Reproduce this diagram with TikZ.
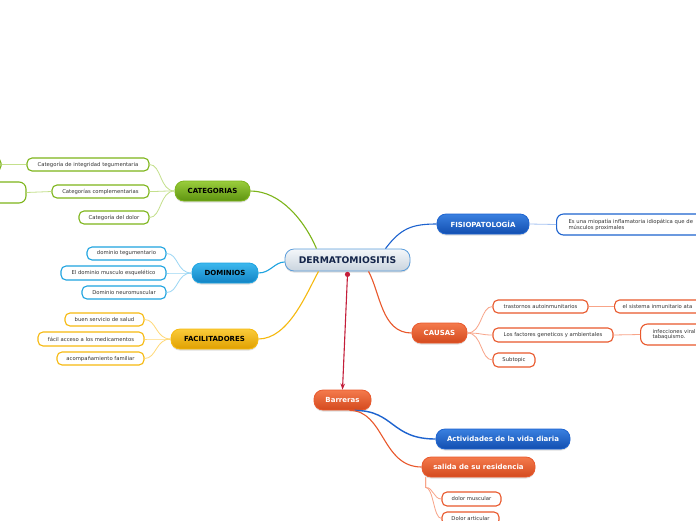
\documentclass[tikz,border=0pt]{standalone}
\usepackage{fontspec}
\setmainfont{DejaVu Sans}
\usetikzlibrary{shadows,arrows.meta}
\definecolor{txtgray}{HTML}{333333}
\definecolor{grnB}{HTML}{7DB51A}
\definecolor{grnT}{HTML}{9ACD3C}
\definecolor{grnD}{HTML}{5E9410}
\definecolor{grnL}{HTML}{C4E08C}
\definecolor{cyaB}{HTML}{1EA3E0}
\definecolor{cyaT}{HTML}{3CB8EE}
\definecolor{cyaD}{HTML}{1283C4}
\definecolor{cyaL}{HTML}{9AD6F4}
\definecolor{yelB}{HTML}{F6B90E}
\definecolor{yelT}{HTML}{FACB3A}
\definecolor{yelD}{HTML}{E0A000}
\definecolor{yelL}{HTML}{FFD978}
\definecolor{bluB}{HTML}{1D63CF}
\definecolor{bluT}{HTML}{3A80E0}
\definecolor{bluD}{HTML}{124EB0}
\definecolor{bluL}{HTML}{A5C3F2}
\definecolor{orgB}{HTML}{E9582C}
\definecolor{orgT}{HTML}{F47A4C}
\definecolor{orgD}{HTML}{D44A1E}
\definecolor{orgL}{HTML}{F8A488}
\definecolor{cenB}{HTML}{5A9CDA}
\definecolor{cenT}{HTML}{F4F7FA}
\definecolor{cenD}{HTML}{C9D4DE}
\definecolor{navy}{HTML}{14254A}
\definecolor{redA}{HTML}{C41E3A}
\tikzset{
  mainbox/.style={rounded corners=9pt, minimum height=20pt, inner sep=0pt, line width=0.8pt,
    font=\fontsize{7}{8}\selectfont\bfseries, drop shadow={shadow xshift=0pt, shadow yshift=-1.5pt, opacity=0.25}},
  subbox/.style={rounded corners=5pt, minimum height=13pt, inner sep=0pt, line width=1.1pt, fill=white,
    text=txtgray, font=\fontsize{5.3}{6}\selectfont},
  greenbox/.style={mainbox, draw=grnB, top color=grnT, bottom color=grnD, text=black},
  cyanbox/.style={mainbox, draw=cyaB, top color=cyaT, bottom color=cyaD, text=black},
  yellowbox/.style={mainbox, draw=yelB, top color=yelT, bottom color=yelD, text=black},
  bluebox/.style={mainbox, draw=bluB, top color=bluT, bottom color=bluD, text=white},
  orangebox/.style={mainbox, draw=orgB, top color=orgT, bottom color=orgD, text=white},
  gsub/.style={subbox, draw=grnB},
  csub/.style={subbox, draw=cyaB},
  ysub/.style={subbox, draw=yelB},
  bsub/.style={subbox, draw=bluB},
  osub/.style={subbox, draw=orgB},
  mainlink/.style={line width=1.1pt},
  sublink/.style={line width=0.8pt},
}
\begin{document}
\begin{tikzpicture}[x=1pt,y=-1pt]
\useasboundingbox (0,0) rectangle (696,520);
\clip (0,0) rectangle (696,520);
\fill[white] (0,0) rectangle (696,520);

% central
\node[mainbox, draw=cenB, top color=cenT, bottom color=cenD, text=navy, minimum width=125pt, minimum height=22pt,
  font=\fontsize{9.2}{10}\selectfont\bfseries] (cen) at (347.5,260) {DERMATOMIOSITIS};

% CATEGORIAS
\node[greenbox, minimum width=75pt] (cat) at (212.5,191) {CATEGORIAS};
\node[gsub, minimum width=122pt] (c1) at (88,164.5) {Categoría de integridad tegumentaria};
\node[gsub, minimum width=97pt] (c2) at (100.5,191.5) {Categorías complementarias};
\node[gsub, minimum width=70pt] (c3) at (114,217.5) {Categoría del dolor};
\node[gsub, minimum width=41pt] (l1) at (-19.5,164.5) {};
\node[gsub, minimum width=86pt, minimum height=21pt, rounded corners=7pt] (l2) at (-17,192.5) {};

% DOMINIOS
\node[cyanbox, minimum width=66pt] (dom) at (225,273) {DOMINIOS};
\node[csub, minimum width=79pt] (d1) at (126.5,253.5) {dominio tegumentario};
\node[csub, minimum width=105pt, minimum height=14pt] (d2) at (113.5,273) {El dominio musculo esquelético};
\node[csub, minimum width=84pt] (d3) at (124,292.5) {Dominio neuromuscular};

% FACILITADORES
\node[yellowbox, minimum width=87pt] (fac) at (214.5,339) {FACILITADORES};
\node[ysub, minimum width=79pt] (f1) at (104.5,319.5) {buen servicio de salud};
\node[ysub, minimum width=106pt, minimum height=14pt] (f2) at (91,339) {fácil acceso a los medicamentos};
\node[ysub, minimum width=87pt] (f3) at (100.5,358.5) {acompañamiento familiar};

% FISIOPATOLOGIA
\node[bluebox, minimum width=92pt] (fis) at (483,224) {FISIOPATOLOGÍA};
\node[bsub, anchor=west, minimum width=200pt, minimum height=21pt, rounded corners=7pt, align=left,
  text width=188pt, inner xsep=12pt, font=\fontsize{5.3}{5.9}\selectfont] (fis1) at (556,224.5)
  {Es una miopatía inflamatoria idiopática que de\\músculos proximales};

% CAUSAS
\node[orangebox, minimum width=55pt] (cau) at (439.5,333) {CAUSAS};
\node[osub, minimum width=95pt] (ca1) at (540.5,306.5) {trastornos autoinmunitarios};
\node[osub, minimum width=120pt, minimum height=14pt] (ca2) at (553,335) {Los factores geneticos y ambientales};
\node[osub, minimum width=42pt, minimum height=14pt] (ca3) at (514,360) {Subtopic};
\node[osub, anchor=west, minimum width=120pt, align=left, text width=110pt, inner xsep=8pt] (ca1a) at (614,306.5)
  {el sistema inmunitario ata};
\node[osub, anchor=west, minimum width=100pt, minimum height=21pt, rounded corners=7pt, align=left,
  text width=88pt, inner xsep=12pt, font=\fontsize{5.3}{5.9}\selectfont] (ca2a) at (640,334.5)
  {infecciones viral\\tabaquismo.};

% Barreras
\node[orangebox, minimum width=57pt] (bar) at (342.5,400) {Barreras};
\node[bluebox, minimum width=134pt] (act) at (503,439) {Actividades de la vida diaria};
\node[orangebox, minimum width=113pt] (sal) at (478.5,467) {salida de su residencia};
\node[osub, minimum width=59pt, minimum height=14pt] (s1) at (471.5,499) {dolor muscular};
\node[osub, minimum width=57pt] (s2) at (470.5,518.5) {Dolor articular};

% main connectors
\draw[mainlink, grnB] ([xshift=-31pt]cen.north) .. controls +(-12,-28) and +(30,0) .. (cat.east);
\draw[mainlink, cyaB] ([yshift=-2pt]cen.west) .. controls +(-10,0) and +(12,0) .. (dom.east);
\draw[mainlink, yelB] ([xshift=-29pt]cen.south) .. controls +(-12,22) and +(30,0) .. (fac.east);
\draw[mainlink, bluB] ([xshift=38pt]cen.north) .. controls +(15,-20) and +(-25,0) .. (fis.west);
\draw[mainlink, orgB] ([xshift=21pt]cen.south) .. controls +(12,22) and +(-30,0) .. (cau.west);
\draw[mainlink, bluB, line width=1.4pt] ([xshift=12pt]bar.south) .. controls +(40,0) and +(-45,0) .. (act.west);
\draw[mainlink, orgB] ([xshift=7pt]bar.south) .. controls +(35,0) and +(-40,0) .. (sal.west);

% red arrow
\fill[redA] ([yshift=-3pt]cen.south) circle (2.6pt);
\draw[redA, line width=1.1pt, -{Stealth[length=6pt,width=4.5pt]}] ([yshift=-3pt]cen.south) -- (bar.north);

% sub connectors
\foreach \n in {c1,c2,c3} \draw[sublink, grnL] (cat.west) .. controls +(-15,0) and +(12,0) .. (\n.east);
\draw[sublink, grnL] (c1.west) -- (l1.east);
\draw[sublink, grnL] (c2.west) -- (l2.east);
\foreach \n in {d1,d2,d3} \draw[sublink, cyaL] (dom.west) .. controls +(-15,0) and +(12,0) .. (\n.east);
\foreach \n in {f1,f2,f3} \draw[sublink, yelL] (fac.west) .. controls +(-15,0) and +(12,0) .. (\n.east);
\draw[sublink, bluL] (fis.east) -- (fis1.west);
\foreach \n in {ca1,ca2,ca3} \draw[sublink, orgL] (cau.east) .. controls +(15,0) and +(-12,0) .. (\n.west);
\draw[sublink, orgL] (ca1.east) -- (ca1a.west);
\draw[sublink, orgL] (ca2.east) -- (ca2a.west);
\foreach \n in {s1,s2} \draw[sublink, orgL] ([xshift=4pt]sal.south west) -- ++(0,10) .. controls +(8,0) and +(-8,0) .. (\n.west);
\end{tikzpicture}
\end{document}
